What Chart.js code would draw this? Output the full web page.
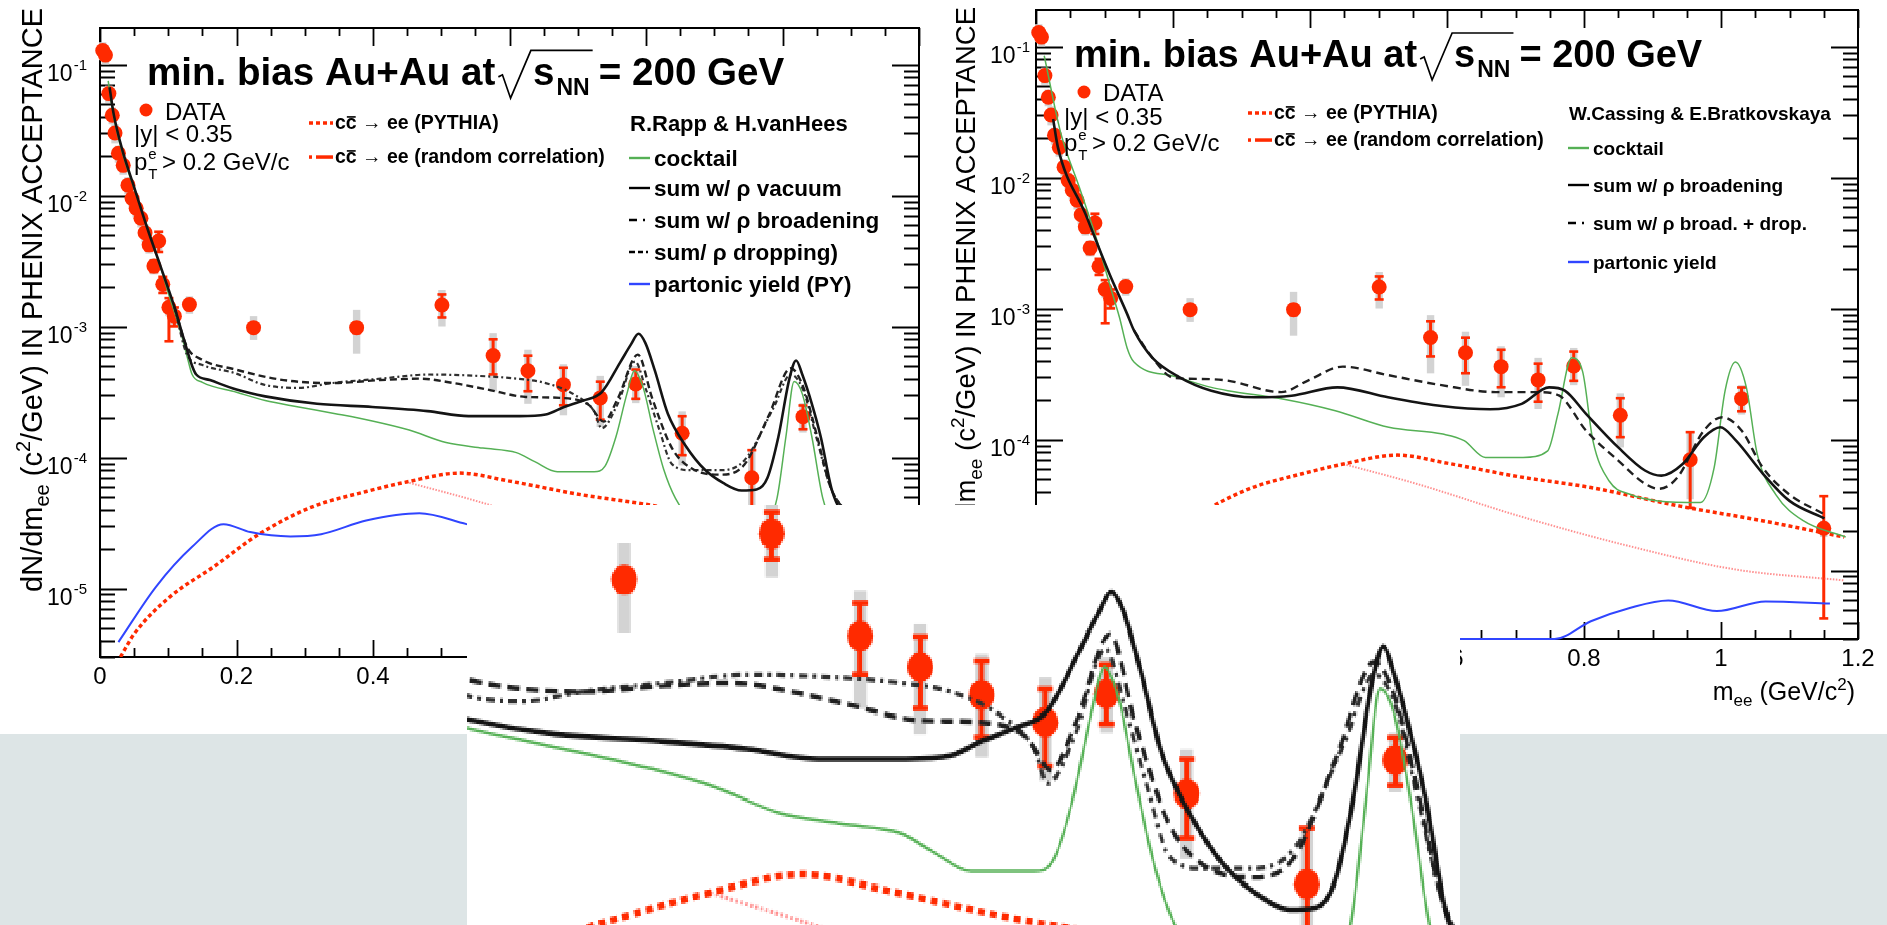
<!DOCTYPE html>
<html>
<head>
<meta charset="utf-8">
<script src="https://cdn.jsdelivr.net/npm/chart.js@4.4.1/dist/chart.umd.min.js"></script>
<style>
  html, body { margin: 0; padding: 0; background: #ffffff; width: 1887px; height: 925px; overflow: hidden; }
  body { position: relative; }
  #band { position: absolute; left: 0; top: 734px; width: 1887px; height: 191px; background: #dde5e6; }
  #left { position: absolute; left: 0; top: 0; width: 935px; height: 734px; filter: blur(0.45px); }
  #right { position: absolute; left: 935px; top: 0; width: 952px; height: 734px; filter: blur(0.45px); }
  #zoomBox { position: absolute; left: 467px; top: 505px; width: 993px; height: 420px; overflow: hidden; background: #ffffff; }
  #inset { position: absolute; left: 0; top: 0; image-rendering: pixelated; }
</style>
</head>
<body>
<div id="band"></div>
<canvas id="left" width="935" height="734"></canvas>
<canvas id="right" width="952" height="734"></canvas>
<div id="zoomBox"><canvas id="inset" width="575" height="208"></canvas></div>
<script>
const FONT = '"Liberation Sans", Arial, Helvetica, sans-serif';
const RED = '#ff2a00';
const GREEN = '#55b055';
const BLUE = '#3045ff';
const BLACK = '#141414';

// ---------- axis ticks ----------
const massTicks = [0, 0.2, 0.4, 0.6, 0.8, 1, 1.2];
const massTickLabels = ['0', '0.2', '0.4', '0.6', '0.8', '1', '1.2'];
const decadeTicks = [1e-5, 1e-4, 1e-3, 1e-2, 1e-1];
const decadeExponents = ['-5', '-4', '-3', '-2', '-1'];

// ---------- PHENIX min. bias Au+Au dielectron data (m_ee in GeV/c^2) ----------
const dataMass = [0.004, 0.008, 0.013, 0.018, 0.022, 0.027, 0.034, 0.041, 0.047, 0.053, 0.060, 0.066, 0.072, 0.079, 0.086, 0.092, 0.101, 0.109, 0.131, 0.225, 0.376, 0.501, 0.576, 0.627, 0.679, 0.733, 0.785, 0.853, 0.955, 1.030, 1.150];
const dataYield = [0.128, 0.118, 0.060, 0.041, 0.030, 0.021, 0.017, 0.012, 0.0095, 0.0080, 0.0067, 0.0052, 0.0042, 0.0029, 0.0045, 0.0021, 0.0014, 0.0012, 0.00147, 0.00098, 0.00098, 0.00146, 0.00060, 0.00046, 0.00036, 0.000285, 0.000364, 0.000153, 0.000070, 0.000205, 0.000021];
const dataStatHi = [0.136, 0.125, 0.064, 0.044, 0.032, 0.0225, 0.018, 0.0128, 0.0101, 0.0086, 0.0072, 0.0056, 0.0046, 0.0032, 0.0053, 0.0024, 0.00165, 0.0014, 0.0016, 0.00104, 0.00107, 0.00176, 0.00080, 0.00060, 0.000485, 0.00038, 0.00047, 0.000207, 0.000114, 0.00025, 0.000037];
const dataStatLo = [0.120, 0.111, 0.056, 0.038, 0.028, 0.0195, 0.016, 0.0112, 0.0089, 0.0074, 0.0062, 0.0048, 0.0038, 0.0026, 0.0037, 0.0018, 0.00077, 0.0010, 0.00134, 0.00092, 0.00089, 0.00117, 0.00043, 0.00032, 0.00025, 0.000194, 0.00028, 0.000104, 0.000030, 0.000164, 0.0000043];
const dataSysHi = [0.148, 0.136, 0.069, 0.047, 0.035, 0.024, 0.0196, 0.0138, 0.0109, 0.0092, 0.0077, 0.0060, 0.0048, 0.0033, 0.0052, 0.0024, 0.0016, 0.0014, 0.0017, 0.00120, 0.00134, 0.00190, 0.00089, 0.000665, 0.000515, 0.00042, 0.00050, 0.000225, 0.000112, 0.00026, 0.000024];
const dataSysLo = [0.108, 0.100, 0.051, 0.035, 0.025, 0.0178, 0.0144, 0.0102, 0.0081, 0.0068, 0.0057, 0.0044, 0.0036, 0.0025, 0.0038, 0.0018, 0.0012, 0.0010, 0.00125, 0.00079, 0.00062, 0.00100, 0.00032, 0.000257, 0.00021, 0.000171, 0.00026, 0.000087, 0.000035, 0.000155, 0.000018];

// ---------- open charm (shared by both panels) ----------
const charmPythia = [[0.03, 3.0e-6], [0.05, 4.5e-6], [0.102, 8.6e-6], [0.167, 1.47e-5], [0.233, 2.6e-5], [0.311, 4.2e-5], [0.39, 5.5e-5], [0.449, 6.5e-5], [0.527, 7.6e-5], [0.60, 6.6e-5], [0.705, 5.2e-5], [0.81, 4.3e-5], [0.94, 3.1e-5], [1.06, 2.4e-5], [1.18, 1.8e-5]];
const charmRandom = [[0.449, 6.5e-5], [0.555, 4.6e-5], [0.706, 2.6e-5], [0.863, 1.55e-5], [1.02, 1.02e-5], [1.18, 8.4e-6]];

// ---------- R.Rapp & H.vanHees ----------
const rappCocktail = [[0.012, 0.075], [0.02, 0.040], [0.03, 0.024], [0.04, 0.016], [0.05, 0.0113], [0.06, 0.0079], [0.07, 0.0056], [0.08, 0.0039], [0.09, 0.0027], [0.10, 0.0018], [0.11, 0.00125], [0.12, 0.00084], [0.128, 0.00058], [0.135, 0.00043], [0.15, 0.000375], [0.2, 0.000315], [0.242, 0.000272], [0.291, 0.000243], [0.345, 0.000216], [0.399, 0.00019], [0.453, 0.000162], [0.507, 0.00013], [0.561, 0.000118], [0.61, 0.000109], [0.637, 0.000093], [0.67, 0.000078], [0.724, 0.000078], [0.74, 0.000086], [0.756, 0.000144], [0.772, 0.000306], [0.783, 0.00046], [0.796, 0.00034], [0.81, 0.000167], [0.826, 0.000081], [0.843, 0.000049], [0.87, 0.000032], [0.92, 0.000026], [0.97, 0.000028], [0.992, 0.000049], [1.005, 0.000144], [1.017, 0.00038], [1.029, 0.000306], [1.043, 0.000144], [1.059, 0.000049], [1.08, 0.000026], [1.12, 0.000019], [1.18, 0.000016]];
const rappVacuum = [[0.014, 0.067], [0.02, 0.042], [0.033, 0.022], [0.05, 0.0116], [0.069, 0.0057], [0.089, 0.00285], [0.109, 0.00141], [0.122, 0.00083], [0.135, 0.0005], [0.141, 0.00043], [0.161, 0.00039], [0.2, 0.00033], [0.242, 0.000293], [0.318, 0.000257], [0.399, 0.000243], [0.48, 0.000226], [0.54, 0.000207], [0.615, 0.000207], [0.653, 0.000213], [0.68, 0.000243], [0.708, 0.000272], [0.735, 0.000315], [0.762, 0.00053], [0.778, 0.00073], [0.789, 0.00088], [0.799, 0.00075], [0.813, 0.00046], [0.832, 0.000216], [0.859, 0.000121], [0.886, 0.000081], [0.913, 0.000064], [0.94, 0.000056], [0.962, 0.000057], [0.978, 0.00007], [0.994, 0.000144], [1.01, 0.000397], [1.02, 0.00055], [1.029, 0.00043], [1.043, 0.000257], [1.056, 0.000144], [1.073, 0.000055], [1.10, 0.000032], [1.15, 0.000023], [1.19, 0.000019]];
const rappBroadening = [[0.109, 0.00141], [0.1274, 0.0007], [0.149, 0.00056], [0.198, 0.00047], [0.269, 0.00039], [0.34, 0.00037], [0.411, 0.00039], [0.468, 0.0004], [0.518, 0.00037], [0.568, 0.00033], [0.624, 0.00029], [0.681, 0.000284], [0.717, 0.00025], [0.738, 0.000188], [0.759, 0.000284], [0.788, 0.00061], [0.809, 0.000284], [0.838, 0.000118], [0.866, 0.000083], [0.909, 0.000074], [0.944, 0.000088], [0.98, 0.00021], [1.012, 0.00048], [1.03, 0.00035], [1.05, 0.00015], [1.07, 0.00006], [1.1, 0.000035]];
const rappDropping = [[0.109, 0.00141], [0.1274, 0.00061], [0.149, 0.00051], [0.198, 0.00044], [0.24, 0.00036], [0.29, 0.00034], [0.34, 0.00037], [0.411, 0.0004], [0.482, 0.00043], [0.553, 0.00042], [0.61, 0.0004], [0.653, 0.00037], [0.696, 0.0003], [0.724, 0.000225], [0.735, 0.000167], [0.759, 0.00026], [0.784, 0.00054], [0.80, 0.00033], [0.82, 0.00016], [0.838, 0.000089], [0.866, 0.00008], [0.909, 0.00008], [0.944, 0.000095], [0.987, 0.00024], [1.012, 0.00043], [1.03, 0.00033], [1.05, 0.00014], [1.07, 0.00006], [1.1, 0.000035]];
const rappPartonic = [[0.027, 3.9e-6], [0.082, 1.03e-5], [0.135, 2.08e-5], [0.181, 3.1e-5], [0.22, 2.7e-5], [0.279, 2.5e-5], [0.324, 2.6e-5], [0.39, 3.3e-5], [0.468, 3.75e-5], [0.537, 3.1e-5], [0.56, 2.9e-5]];

// ---------- W.Cassing & E.Bratkovskaya ----------
const cbCocktail = [[0.012, 0.085], [0.036, 0.022], [0.063, 0.0085], [0.089, 0.0033], [0.108, 0.0015], [0.122, 0.00085], [0.133, 0.0005], [0.143, 0.00039], [0.2, 0.000305], [0.256, 0.00025], [0.28, 0.000236], [0.36, 0.000204], [0.437, 0.000166], [0.515, 0.000124], [0.594, 0.00011], [0.625, 0.000098], [0.656, 0.000073], [0.711, 0.000073], [0.747, 0.000082], [0.762, 0.000157], [0.782, 0.00042], [0.798, 0.00033], [0.813, 0.000098], [0.837, 0.000048], [0.868, 0.000038], [0.908, 0.000034], [0.97, 0.000033], [0.99, 0.000061], [1.006, 0.000236], [1.021, 0.00039], [1.037, 0.00025], [1.053, 0.000077], [1.08, 0.000038], [1.12, 0.000024], [1.182, 0.000018]];
const cbBroadening = [[0.025, 0.028], [0.032, 0.017], [0.072, 0.0053], [0.107, 0.00185], [0.133, 0.00091], [0.143, 0.00068], [0.17, 0.00042], [0.209, 0.0003], [0.256, 0.000236], [0.319, 0.00021], [0.373, 0.000216], [0.44, 0.00025], [0.514, 0.00021], [0.592, 0.00018], [0.663, 0.00017], [0.709, 0.000187], [0.749, 0.00025], [0.772, 0.000236], [0.803, 0.000157], [0.85, 0.000087], [0.889, 0.000058], [0.913, 0.000053], [0.944, 0.000065], [0.975, 0.000104], [0.999, 0.000124], [1.022, 0.000098], [1.061, 0.000055], [1.1, 0.000034], [1.151, 0.000025]];
const cbBroadDrop = [[0.143, 0.00068], [0.17, 0.00042], [0.201, 0.000295], [0.24, 0.00029], [0.279, 0.000282], [0.358, 0.00023], [0.397, 0.000282], [0.448, 0.00036], [0.514, 0.00031], [0.592, 0.00026], [0.671, 0.00023], [0.733, 0.00023], [0.764, 0.000216], [0.803, 0.000117], [0.85, 0.000069], [0.889, 0.000046], [0.909, 0.000042], [0.936, 0.000051], [0.975, 0.000117], [1.002, 0.000148], [1.03, 0.000117], [1.061, 0.000061], [1.1, 0.000038], [1.15, 0.000027]];
const cbPartonic = [[0.615, 3.0e-6], [0.757, 3.0e-6], [0.81, 4.1e-6], [0.868, 5.2e-6], [0.923, 5.9e-6], [0.994, 4.9e-6], [1.065, 5.8e-6], [1.159, 5.6e-6]];

// ---------- helpers ----------
function pts(list) { return list.map(p => ({ x: p[0], y: p[1] })); }

function curve(label, list, color, width, dash, order, extra) {
  return Object.assign({
    label: label, data: pts(list), borderColor: color, backgroundColor: color,
    borderWidth: width, borderDash: dash, pointRadius: 0, fill: false,
    cubicInterpolationMode: 'monotone', order: order
  }, extra || {});
}

function dataDataset() {
  return {
    label: 'DATA',
    data: dataMass.map((m, i) => ({ x: m, y: dataYield[i] })),
    statHi: dataStatHi, statLo: dataStatLo, sysHi: dataSysHi, sysLo: dataSysLo,
    showLine: false, pointRadius: 7.5, pointBackgroundColor: RED, pointBorderColor: RED,
    pointBorderWidth: 0, borderColor: RED, backgroundColor: RED, clip: false, order: 10
  };
}

function charmDatasets() {
  return [
    curve('cc -> ee (PYTHIA)', charmPythia, RED, 3.5, [4, 3], 8),
    curve('cc -> ee (random correlation)', charmRandom, 'rgba(255,70,70,0.6)', 2, [1.5, 1.5], 8)
  ];
}

function rappDatasets() {
  return [dataDataset()].concat(charmDatasets(), [
    curve('partonic yield (PY)', rappPartonic, BLUE, 2, [], 6),
    curve('cocktail', rappCocktail, GREEN, 1.5, [], 5),
    curve('sum/ rho dropping)', rappDropping, '#303030', 2.2, [5, 3, 2, 3], 3),
    curve('sum w/ rho broadening', rappBroadening, '#202020', 2.4, [7, 4], 2),
    curve('sum w/ rho vacuum', rappVacuum, BLACK, 2.6, [], 1)
  ]);
}

function cbDatasets() {
  return [dataDataset()].concat(charmDatasets(), [
    curve('partonic yield', cbPartonic, BLUE, 2, [], 6, { clip: { left: 0, top: 0, right: 0, bottom: 3 } }),
    curve('cocktail', cbCocktail, GREEN, 1.5, [], 5),
    curve('sum w/ rho broad. + drop.', cbBroadDrop, '#202020', 2.4, [8, 5], 2),
    curve('sum w/ rho broadening', cbBroadening, BLACK, 2.6, [], 1)
  ]);
}

// statistical (red) and systematic (grey) error bars of the data points
const errorBars = {
  id: 'errorBars',
  beforeDatasetDraw(chart, args) {
    const ds = chart.data.datasets[args.index];
    if (!ds.statHi) return;
    const ctx = chart.ctx, xs = chart.scales.x, ys = chart.scales.y;
    ctx.save();
    ctx.fillStyle = '#d3d3d3';
    ds.data.forEach((p, i) => {
      const x = xs.getPixelForValue(p.x);
      const y1 = ys.getPixelForValue(ds.sysHi[i]), y2 = ys.getPixelForValue(ds.sysLo[i]);
      ctx.fillRect(x - 3.7, y1, 7.4, y2 - y1);
    });
    ctx.fillStyle = RED;
    ds.data.forEach((p, i) => {
      const x = xs.getPixelForValue(p.x);
      const y1 = ys.getPixelForValue(ds.statHi[i]), y2 = ys.getPixelForValue(ds.statLo[i]);
      ctx.fillRect(x - 1.5, y1, 3, y2 - y1);
      ctx.fillRect(x - 4.5, y1 - 1.2, 9, 2.6);
      ctx.fillRect(x - 4.5, y2 - 1.4, 9, 2.6);
    });
    ctx.restore();
  }
};

function rich(ctx, x, y, parts) {
  let cx = x;
  parts.forEach(p => {
    ctx.font = (p.b ? 'bold ' : '') + p.s + 'px ' + FONT;
    ctx.fillText(p.t, cx, y + (p.dy || 0));
    const w = ctx.measureText(p.t).width;
    if (p.over) ctx.fillRect(cx + 1, y - p.s * 0.66, w - 2, 1.6);
    cx += w + (p.gap || 0);
  });
  return cx;
}
function richWidth(ctx, parts) {
  let w = 0;
  parts.forEach(p => { ctx.font = (p.b ? 'bold ' : '') + p.s + 'px ' + FONT; w += ctx.measureText(p.t).width + (p.gap || 0); });
  return w;
}

function drawTitle(ctx, x, yb, size) {
  const k = size / 38;
  ctx.fillStyle = '#000'; ctx.strokeStyle = '#000';
  const cx = rich(ctx, x, yb, [{ t: 'min. bias Au+Au at', s: size, b: 1 }]);
  const x0 = cx + 3 * k, sx = x0 + 34 * k;
  ctx.font = 'bold ' + size + 'px ' + FONT; ctx.fillText('s', sx, yb);
  const ws = ctx.measureText('s').width;
  ctx.font = 'bold ' + Math.round(23 * k) + 'px ' + FONT; ctx.fillText('NN', sx + ws + 2 * k, yb + 10 * k);
  const end = sx + ws + 2 * k + ctx.measureText('NN').width;
  ctx.beginPath();
  ctx.moveTo(x0, yb - 8 * k); ctx.lineTo(x0 + 4 * k, yb - 10 * k); ctx.lineTo(x0 + 12 * k, yb + 13 * k);
  ctx.lineTo(x0 + 32 * k, yb - 34 * k); ctx.lineTo(end + 3 * k, yb - 34 * k);
  ctx.lineWidth = 1.7; ctx.stroke();
  rich(ctx, end + 9 * k, yb, [{ t: '= 200 GeV', s: size, b: 1 }]);
}

function drawDataBlock(ctx, x, dotX, dotY, rows) {
  ctx.fillStyle = RED;
  ctx.beginPath(); ctx.arc(dotX, dotY, 6.5, 0, Math.PI * 2); ctx.fill();
  ctx.fillStyle = '#000';
  rich(ctx, dotX + 19, rows[0], [{ t: 'DATA', s: 24 }]);
  rich(ctx, x, rows[1], [{ t: '|y| < 0.35', s: 24 }]);
  ctx.font = '24px ' + FONT; ctx.fillText('p', x, rows[2]);
  const wp = ctx.measureText('p').width;
  ctx.font = '15px ' + FONT;
  ctx.fillText('e', x + wp + 1, rows[2] - 11);
  ctx.fillText('T', x + wp + 1, rows[2] + 9);
  rich(ctx, x + wp + 8, rows[2], [{ t: ' > 0.2 GeV/c', s: 24 }]);
}

function drawCharmLegend(ctx, x, y1, y2) {
  ctx.save();
  ctx.strokeStyle = RED; ctx.lineWidth = 3.5; ctx.setLineDash([4, 3]);
  ctx.beginPath(); ctx.moveTo(x, y1); ctx.lineTo(x + 24, y1); ctx.stroke();
  ctx.setLineDash([]);
  ctx.fillStyle = RED;
  ctx.fillRect(x, y2 - 1.7, 3, 3.5);
  ctx.fillRect(x + 7, y2 - 1.7, 17, 3.5);
  ctx.restore();
  ctx.fillStyle = '#000';
  const cc = [{ t: 'c', s: 19.5, b: 1 }, { t: 'c', s: 19.5, b: 1, over: 1 }];
  rich(ctx, x + 26, y1 + 6, cc.concat([{ t: ' \u2192 ee (PYTHIA)', s: 19.5, b: 1 }]));
  rich(ctx, x + 26, y2 + 6, cc.concat([{ t: ' \u2192 ee (random correlation)', s: 19.5, b: 1 }]));
}

function sample(ctx, x, y, w, color, kind) {
  ctx.save(); ctx.strokeStyle = color; ctx.lineWidth = 2.4;
  ctx.beginPath();
  if (kind === 'solid') { ctx.moveTo(x, y); ctx.lineTo(x + w, y); }
  else if (kind === 'dashdot') { ctx.moveTo(x, y); ctx.lineTo(x + 8, y); ctx.moveTo(x + 14, y); ctx.lineTo(x + 16, y); }
  else { ctx.moveTo(x, y); ctx.lineTo(x + 6, y); ctx.moveTo(x + 9, y); ctx.lineTo(x + 14, y); ctx.moveTo(x + 17, y); ctx.lineTo(x + 19, y); }
  ctx.stroke(); ctx.restore();
}

function drawModelLegend(ctx, x, title, rows, size, titleY) {
  ctx.fillStyle = '#000';
  rich(ctx, x + 1, titleY + size * 0.36, [{ t: title, s: size, b: 1 }]);
  rows.forEach(r => {
    sample(ctx, x, r.y, 21, r.color, r.kind);
    ctx.fillStyle = '#000';
    rich(ctx, x + 25, r.y + size * 0.36, r.parts);
  });
}

function drawYTitle(ctx, cx, top, size) {
  const k = size / 29;
  const parts = [{ t: 'dN/dm', s: size }, { t: 'ee', s: 20 * k, dy: 7 * k }, { t: ' (c', s: size }, { t: '2', s: 20 * k, dy: -12 * k }, { t: '/GeV) IN PHENIX ACCEPTANCE', s: size }];
  const w = richWidth(ctx, parts);
  ctx.save(); ctx.translate(cx + 10.5 * k, top + w); ctx.rotate(-Math.PI / 2);
  ctx.fillStyle = '#000'; rich(ctx, 0, 0, parts); ctx.restore();
}

// ROOT-style frame: ticks inside on all four sides, decade labels with exponents
function framePlugin(cfg) {
  return {
    id: 'rootFrame',
    beforeDatasetsDraw(chart) {
      const ctx = chart.ctx, a = chart.chartArea, xs = chart.scales.x, ys = chart.scales.y;
      ctx.save();
      ctx.strokeStyle = '#000'; ctx.fillStyle = '#000';
      ctx.lineWidth = 2;
      ctx.strokeRect(a.left, a.top, a.right - a.left, a.bottom - a.top);
      ctx.lineWidth = 1.8;
      ctx.beginPath();
      for (let i = 0; i <= 24; i++) {
        const px = Math.round(xs.getPixelForValue(i * 0.05)) + 0.5;
        const major = i % 4 === 0;
        ctx.moveTo(px, a.bottom); ctx.lineTo(px, a.bottom - (major ? 17 : 9));
        ctx.moveTo(px, a.top); ctx.lineTo(px, a.top + (major ? 18 : 8));
      }
      for (let e = -6; e <= -1; e++) {
        for (let k = 1; k <= 9; k++) {
          const v = k * Math.pow(10, e);
          if (v < ys.min || v > ys.max) continue;
          const py = Math.round(ys.getPixelForValue(v)) + 0.5;
          const len = k === 1 ? 27 : 15;
          ctx.moveTo(a.left, py); ctx.lineTo(a.left + len, py);
          ctx.moveTo(a.right, py); ctx.lineTo(a.right - len, py);
        }
      }
      ctx.stroke();
      // mass labels
      ctx.font = '24px ' + FONT; ctx.textAlign = 'center';
      massTicks.forEach((m, i) => ctx.fillText(massTickLabels[i], xs.getPixelForValue(m), a.bottom + 27));
      // decade labels
      ctx.textAlign = 'left';
      decadeTicks.forEach((v, i) => {
        const py = ys.getPixelForValue(v);
        ctx.font = '15px ' + FONT; const we = ctx.measureText(decadeExponents[i]).width;
        ctx.font = '23px ' + FONT; const w10 = ctx.measureText('10').width;
        const x0 = cfg.labelRight - we - w10 - 1;
        ctx.fillText('10', x0, py + 16);
        ctx.font = '15px ' + FONT; ctx.fillText(decadeExponents[i], x0 + w10 + 1, py + 5);
      });
      ctx.restore();
    },
    afterDraw(chart) {
      const ctx = chart.ctx;
      ctx.save(); ctx.textAlign = 'left'; ctx.textBaseline = 'alphabetic';
      cfg.texts(ctx, chart);
      ctx.restore();
    }
  };
}

function baseOptions(pad, xr, yr) {
  return {
    responsive: false, animation: false, devicePixelRatio: 1, events: [],
    layout: { padding: pad, autoPadding: false },
    plugins: { legend: { display: false }, tooltip: { enabled: false } },
    scales: {
      x: { type: 'linear', min: xr[0], max: xr[1], display: false },
      y: { type: 'logarithmic', min: yr[0], max: yr[1], display: false }
    }
  };
}

Chart.defaults.font.family = FONT;

// ---------- left panel: R.Rapp & H.vanHees ----------
new Chart(document.getElementById('left'), {
  type: 'line',
  data: { datasets: rappDatasets() },
  options: baseOptions({ left: 100, right: 16, top: 28, bottom: 77 }, [0, 1.2], [3e-6, 0.19]),
  plugins: [errorBars, framePlugin({
    labelRight: 87,
    texts(ctx) {
      drawYTitle(ctx, 31, 8, 29);
      drawTitle(ctx, 147, 85, 38.6);
      drawDataBlock(ctx, 134, 146, 110, [120, 142, 170]);
      drawCharmLegend(ctx, 309, 123, 157);
      const rho = '\u03c1';
      drawModelLegend(ctx, 629, 'R.Rapp & H.vanHees', [
        { y: 158, color: GREEN, kind: 'solid', parts: [{ t: 'cocktail', s: 22.5, b: 1 }] },
        { y: 188, color: '#000', kind: 'solid', parts: [{ t: 'sum w/ ' + rho + ' vacuum', s: 22.5, b: 1 }] },
        { y: 220, color: '#000', kind: 'dashdot', parts: [{ t: 'sum w/ ' + rho + ' broadening', s: 22.5, b: 1 }] },
        { y: 252, color: '#000', kind: 'dashdashdot', parts: [{ t: 'sum/ ' + rho + ' dropping)', s: 22.5, b: 1 }] },
        { y: 284, color: BLUE, kind: 'solid', parts: [{ t: 'partonic yield (PY)', s: 22.5, b: 1 }] }
      ], 22, 123);
    }
  })]
});

// ---------- right panel: W.Cassing & E.Bratkovskaya ----------
new Chart(document.getElementById('right'), {
  type: 'line',
  data: { datasets: cbDatasets() },
  options: baseOptions({ left: 101, right: 29, top: 10, bottom: 95 }, [0, 1.2], [3e-6, 0.19]),
  plugins: [errorBars, framePlugin({
    labelRight: 95,
    texts(ctx, chart) {
      drawYTitle(ctx, 30, 7, 27.5);
      drawTitle(ctx, 139, 67, 38);
      drawDataBlock(ctx, 129, 149, 92, [101, 125, 151]);
      drawCharmLegend(ctx, 313, 113, 140);
      const rho = '\u03c1';
      drawModelLegend(ctx, 633, 'W.Cassing & E.Bratkovskaya', [
        { y: 148, color: GREEN, kind: 'solid', parts: [{ t: 'cocktail', s: 19, b: 1 }] },
        { y: 185, color: '#000', kind: 'solid', parts: [{ t: 'sum w/ ' + rho + ' broadening', s: 19, b: 1 }] },
        { y: 223, color: '#000', kind: 'dashdot', parts: [{ t: 'sum w/ ' + rho + ' broad. + drop.', s: 19, b: 1 }] },
        { y: 262, color: BLUE, kind: 'solid', parts: [{ t: 'partonic yield', s: 19, b: 1 }] }
      ], 19, 113);
      // mass axis title
      const a = chart.chartArea;
      const parts = [{ t: 'm', s: 25 }, { t: 'ee', s: 17, dy: 6 }, { t: ' (GeV/c', s: 25 }, { t: '2', s: 17, dy: -10 }, { t: ')', s: 25 }];
      ctx.fillStyle = '#000';
      rich(ctx, a.right - 3 - richWidth(ctx, parts), 700, parts);
    }
  })]
});

// ---------- magnified view of the left panel (0.24 - 1.08 GeV/c^2) ----------
const insetCanvas = document.getElementById('inset');
new Chart(insetCanvas, {
  type: 'line',
  data: { datasets: rappDatasets() },
  options: baseOptions({ left: 0, right: 0, top: 0, bottom: 0 }, [0.2426, 1.0848], [4.864e-5, 1.871e-3]),
  plugins: [errorBars]
});
// stretch the rendered view with hard pixel edges
insetCanvas.style.width = '993.4px';
insetCanvas.style.height = '420.6px';
</script>
</body>
</html>
